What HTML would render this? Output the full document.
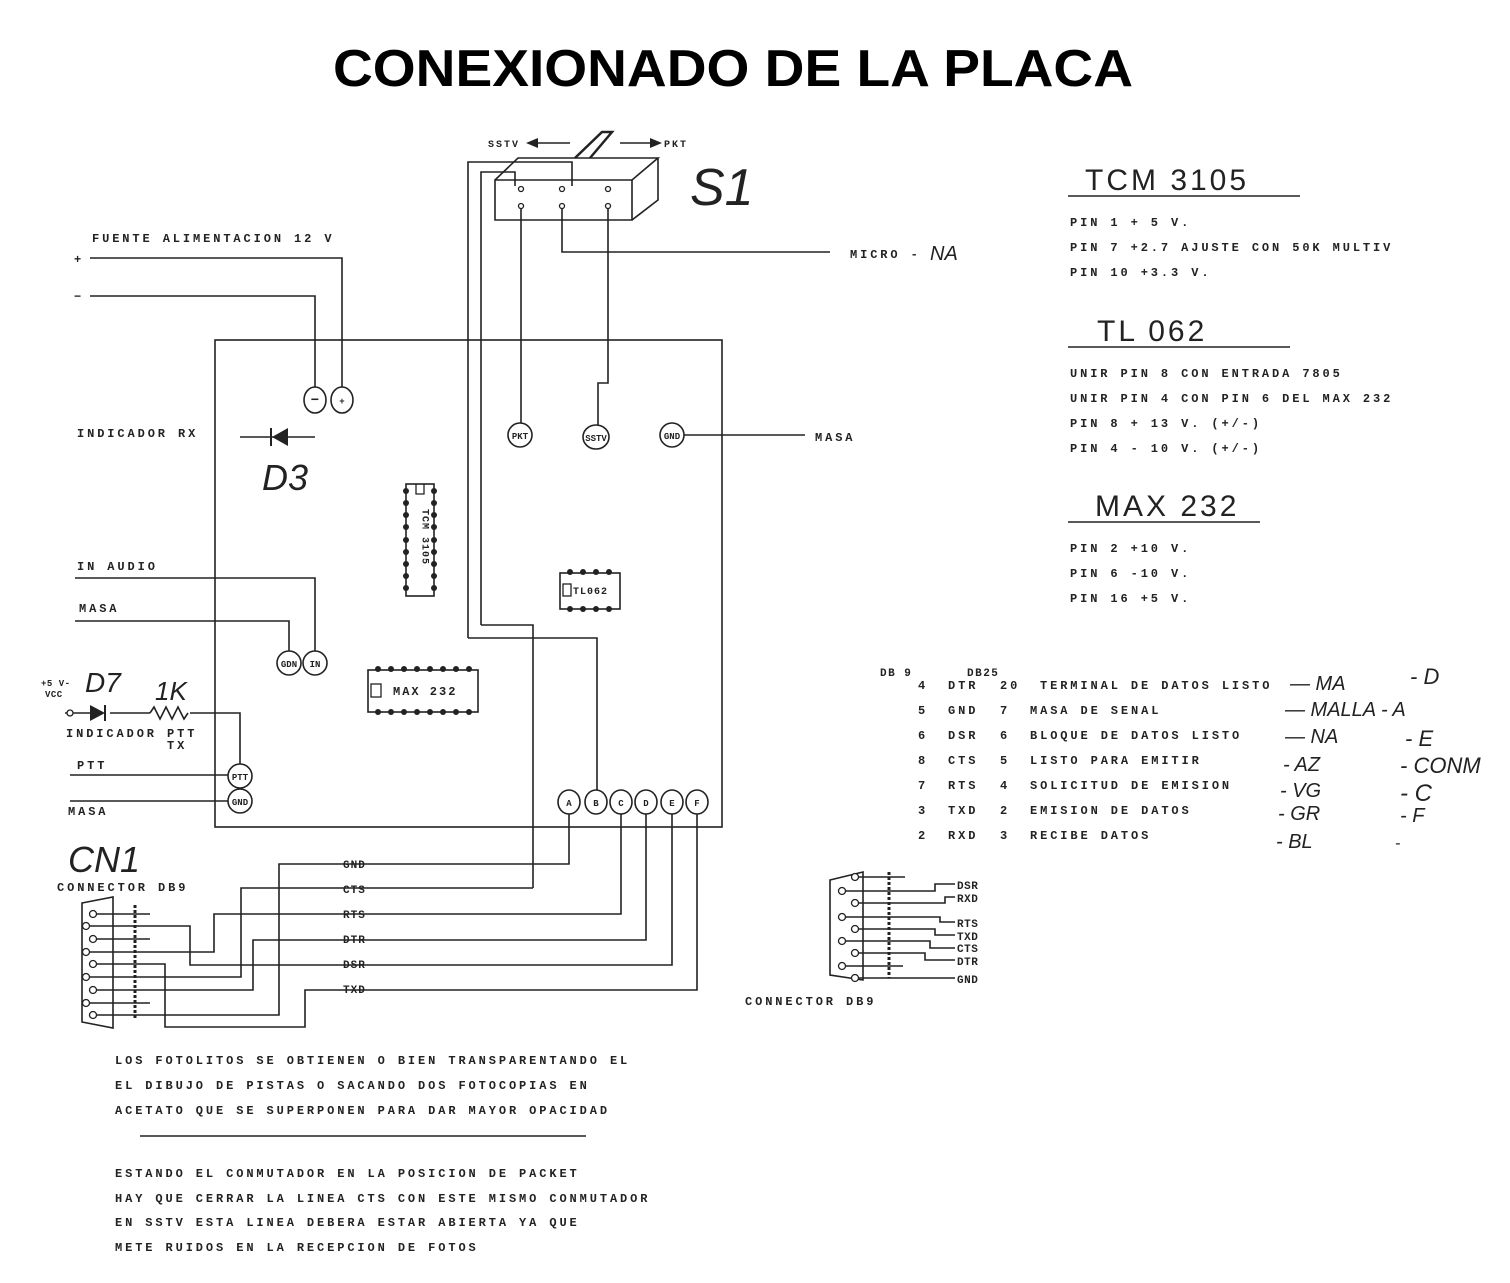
<!DOCTYPE html>
<html><head><meta charset="utf-8"><style>
html,body{margin:0;padding:0;background:#fff;}
svg{display:block;}
.t{font-family:"Liberation Mono",monospace;font-size:12px;font-weight:bold;letter-spacing:2.9px;fill:#222;}
.s{font-family:"Liberation Mono",monospace;font-size:10px;font-weight:bold;letter-spacing:1px;fill:#222;}
.h{font-family:"Liberation Sans",sans-serif;font-size:30px;fill:#222;letter-spacing:3px;}
.hw{font-family:"Liberation Sans",sans-serif;font-style:italic;fill:#222;}
</style></head><body>
<svg width="1510" height="1283" viewBox="0 0 1510 1283" xmlns="http://www.w3.org/2000/svg">
<text x="333" y="86" textLength="800" lengthAdjust="spacingAndGlyphs" font-family="Liberation Sans,sans-serif" font-weight="bold" font-size="52" fill="#000">CONEXIONADO DE LA PLACA</text>

<g stroke="#222" stroke-width="1.6" fill="none">
<rect x="215" y="340" width="507" height="487"/>
<path d="M495 180 L632 180 L632 220 L495 220 Z"/>
<path d="M495 180 L518 158 L658 158 L632 180"/>
<path d="M658 158 L658 200 L632 220"/>
<path d="M575 158 L602 132 L612 132 L590 158" stroke-width="2.5"/>
<path d="M468 638 L468 162 L572 162 L572 186"/>
<path d="M481 625 L481 172 L515 172 L515 186"/>
<path d="M468 638 L597 638 L597 790"/>
<path d="M481 625 L533 625 L533 888"/>
<path d="M521 206 L521 424"/>
<path d="M562 206 L562 252 L830 252"/>
<path d="M608 206 L608 383 L598 383 L598 426"/>
<path d="M90 258 L342 258 L342 388"/>
<path d="M90 296 L315 296 L315 388"/>
<path d="M684 435 L805 435"/>
<path d="M75 578 L315 578 L315 651"/>
<path d="M75 621 L289 621 L289 651"/>
<path d="M70 775 L228 775"/>
<path d="M70 801 L228 801"/>
<path d="M65 713 L90 713 M110 713 L150 713 M190 713 L240 713 L240 764"/>
<path d="M150 713 l4 -6 l6 12 l6 -12 l6 12 l6 -12 l6 12 l4 -6"/>
<path d="M240 437 L315 437"/>
<path d="M569 813 L569 864 L279 864 L279 1015 L140 1015"/>
<path d="M533 888 L241 888 L241 977 L110 977"/>
<path d="M621 813 L621 914 L214 914 L214 952 L110 952"/>
<path d="M646 813 L646 940 L253 940 L253 990 L140 990"/>
<path d="M672 813 L672 965 L190 965 L190 926 L110 926"/>
<path d="M697 813 L697 990 L305 990 L305 1027 L165 1027 L165 964 L140 964"/>
<path d="M82 903 L113 897 L113 1028 L82 1022 Z"/>
<path d="M135 905 L135 1020" stroke-dasharray="3 2" stroke-width="3"/>
<path d="M93 914 L150 914 M86 926 L110 926 M93 939 L150 939 M86 952 L110 952 M93 964 L140 964 M86 977 L110 977 M93 990 L140 990 M86 1003 L150 1003 M93 1015 L140 1015"/>
<path d="M830 880 L863 872 L863 980 L830 975 Z"/>
<path d="M889 872 L889 978" stroke-dasharray="3 2" stroke-width="3"/>
<path d="M855 877 L905 877 M842 891 L935 891 L935 884 L955 884 M855 903 L945 903 L945 897 L955 897 M842 917 L940 917 L940 922 L955 922 M855 929 L935 929 L935 935 L955 935 M842 941 L930 941 L930 948 L955 948 M855 953 L925 953 L925 960 L955 960 M842 966 L903 966 M855 978 L955 978"/>
<path d="M140 1136 L586 1136"/>
<path d="M1068 196 L1300 196 M1068 347 L1290 347 M1068 522 L1260 522"/>
<path d="M530 143 L570 143 M620 143 L656 143"/>
</g>
<g fill="#222">
<path d="M526 143 L538 138 L538 148Z"/>
<path d="M662 143 L650 138 L650 148Z"/>
<path d="M272 437 L288 428 L288 446Z"/>
<path d="M90 705 L90 721 L105 713Z"/>
</g>
<path d="M271 428 L271 446 M105 705 L105 721" stroke="#222" stroke-width="2"/>

<g fill="#fff" stroke="#222" stroke-width="1.3">
<circle cx="521" cy="189" r="2.5"/><circle cx="562" cy="189" r="2.5"/><circle cx="608" cy="189" r="2.5"/>
<circle cx="521" cy="206" r="2.5"/><circle cx="562" cy="206" r="2.5"/><circle cx="608" cy="206" r="2.5"/>
<circle cx="70" cy="713" r="3"/>
<circle cx="93" cy="914" r="3.5"/><circle cx="86" cy="926" r="3.5"/><circle cx="93" cy="939" r="3.5"/><circle cx="86" cy="952" r="3.5"/><circle cx="93" cy="964" r="3.5"/><circle cx="86" cy="977" r="3.5"/><circle cx="93" cy="990" r="3.5"/><circle cx="86" cy="1003" r="3.5"/><circle cx="93" cy="1015" r="3.5"/>
<circle cx="855" cy="877" r="3.5"/><circle cx="842" cy="891" r="3.5"/><circle cx="855" cy="903" r="3.5"/><circle cx="842" cy="917" r="3.5"/><circle cx="855" cy="929" r="3.5"/><circle cx="842" cy="941" r="3.5"/><circle cx="855" cy="953" r="3.5"/><circle cx="842" cy="966" r="3.5"/><circle cx="855" cy="978" r="3.5"/>
</g>

<g fill="#fff" stroke="#222" stroke-width="1.6">
<ellipse cx="315" cy="400" rx="11" ry="13"/><ellipse cx="342" cy="400" rx="11" ry="13"/>
<ellipse cx="520" cy="435" rx="12" ry="12"/><ellipse cx="596" cy="437" rx="13" ry="12"/><ellipse cx="672" cy="435" rx="12" ry="12"/>
<ellipse cx="289" cy="663" rx="12" ry="12"/><ellipse cx="315" cy="663" rx="12" ry="12"/>
<ellipse cx="240" cy="776" rx="12" ry="12"/><ellipse cx="240" cy="801" rx="12" ry="12"/>
<ellipse cx="569" cy="802" rx="11" ry="12"/><ellipse cx="596" cy="802" rx="11" ry="12"/><ellipse cx="621" cy="802" rx="11" ry="12"/><ellipse cx="646" cy="802" rx="11" ry="12"/><ellipse cx="672" cy="802" rx="11" ry="12"/><ellipse cx="697" cy="802" rx="11" ry="12"/>
<rect x="406" y="484" width="28" height="112"/>
<rect x="560" y="573" width="60" height="36"/>
<rect x="368" y="670" width="110" height="42"/>
</g>
<path d="M416 484 L416 494 L424 494 L424 484" fill="none" stroke="#222" stroke-width="1.3"/>
<rect x="563" y="584" width="8" height="12" fill="none" stroke="#222" stroke-width="1.3"/>
<rect x="371" y="684" width="10" height="13" fill="none" stroke="#222" stroke-width="1.3"/>
<g fill="#222">
<circle cx="406" cy="491" r="3"/><circle cx="406" cy="503" r="3"/><circle cx="406" cy="515" r="3"/><circle cx="406" cy="527" r="3"/><circle cx="406" cy="540" r="3"/><circle cx="406" cy="552" r="3"/><circle cx="406" cy="564" r="3"/><circle cx="406" cy="576" r="3"/><circle cx="406" cy="588" r="3"/>
<circle cx="434" cy="491" r="3"/><circle cx="434" cy="503" r="3"/><circle cx="434" cy="515" r="3"/><circle cx="434" cy="527" r="3"/><circle cx="434" cy="540" r="3"/><circle cx="434" cy="552" r="3"/><circle cx="434" cy="564" r="3"/><circle cx="434" cy="576" r="3"/><circle cx="434" cy="588" r="3"/>
<circle cx="570" cy="572" r="3"/><circle cx="583" cy="572" r="3"/><circle cx="596" cy="572" r="3"/><circle cx="609" cy="572" r="3"/>
<circle cx="570" cy="609" r="3"/><circle cx="583" cy="609" r="3"/><circle cx="596" cy="609" r="3"/><circle cx="609" cy="609" r="3"/>
<circle cx="378" cy="669" r="3"/><circle cx="391" cy="669" r="3"/><circle cx="404" cy="669" r="3"/><circle cx="417" cy="669" r="3"/><circle cx="430" cy="669" r="3"/><circle cx="443" cy="669" r="3"/><circle cx="456" cy="669" r="3"/><circle cx="469" cy="669" r="3"/>
<circle cx="378" cy="712" r="3"/><circle cx="391" cy="712" r="3"/><circle cx="404" cy="712" r="3"/><circle cx="417" cy="712" r="3"/><circle cx="430" cy="712" r="3"/><circle cx="443" cy="712" r="3"/><circle cx="456" cy="712" r="3"/><circle cx="469" cy="712" r="3"/>
</g>

<g class="s" text-anchor="middle" style="font-size:9px;letter-spacing:0">
<text x="315" y="404" font-size="14">−</text><text x="342" y="404">+</text>
<text x="520" y="439">PKT</text><text x="596" y="441">SSTV</text><text x="672" y="439">GND</text>
<text x="289" y="667">GDN</text><text x="315" y="667">IN</text>
<text x="240" y="780">PTT</text><text x="240" y="805">GND</text>
<text x="569" y="806">A</text><text x="596" y="806">B</text><text x="621" y="806">C</text><text x="646" y="806">D</text><text x="672" y="806">E</text><text x="697" y="806">F</text>
</g>
<g class="s">
<text x="424" y="509" style="writing-mode:tb;letter-spacing:1px">TCM 3105</text>
<text x="573" y="594">TL062</text>
<text x="393" y="695" style="font-size:12px;letter-spacing:2px">MAX 232</text>
<text x="488" y="147" style="letter-spacing:2px">SSTV</text>
<text x="664" y="147" style="letter-spacing:2px">PKT</text>
</g>

<g class="t">
<text x="92" y="242">FUENTE ALIMENTACION 12 V</text>
<text x="74" y="263">+</text><text x="74" y="300">−</text>
<text x="850" y="258">MICRO -</text>
<text x="77" y="437">INDICADOR RX</text>
<text x="815" y="441">MASA</text>
<text x="77" y="570">IN AUDIO</text>
<text x="79" y="612">MASA</text>
<text x="66" y="737">INDICADOR PTT</text>
<text x="167" y="749">TX</text>
<text x="77" y="769">PTT</text>
<text x="68" y="815">MASA</text>
<text x="57" y="891">CONNECTOR DB9</text>
<text x="745" y="1005">CONNECTOR DB9</text>
<text x="343" y="868" style="font-size:11px;letter-spacing:1px">GND</text>
<text x="343" y="893" style="font-size:11px;letter-spacing:1px">CTS</text>
<text x="343" y="918" style="font-size:11px;letter-spacing:1px">RTS</text>
<text x="343" y="943" style="font-size:11px;letter-spacing:1px">DTR</text>
<text x="343" y="968" style="font-size:11px;letter-spacing:1px">DSR</text>
<text x="343" y="993" style="font-size:11px;letter-spacing:1px">TXD</text>
</g>
<g class="s" style="font-size:11px;letter-spacing:0.5px">
<text x="957" y="889">DSR</text><text x="957" y="902">RXD</text><text x="957" y="927">RTS</text><text x="957" y="940">TXD</text><text x="957" y="952">CTS</text><text x="957" y="965">DTR</text><text x="957" y="983">GND</text>
<text x="41" y="686" style="font-size:9px">+5 V-</text><text x="45" y="697" style="font-size:9px">VCC</text>
</g>

<text class="h" x="1085" y="190">TCM 3105</text>
<text class="h" x="1097" y="341">TL 062</text>
<text class="h" x="1095" y="516">MAX 232</text>
<g class="t">
<text x="1070" y="226">PIN 1 + 5 V.</text>
<text x="1070" y="251">PIN 7 +2.7 AJUSTE CON 50K MULTIV</text>
<text x="1070" y="276">PIN 10 +3.3 V.</text>
<text x="1070" y="377">UNIR PIN 8 CON ENTRADA 7805</text>
<text x="1070" y="402">UNIR PIN 4 CON PIN 6 DEL MAX 232</text>
<text x="1070" y="427">PIN 8 + 13 V. (+/-)</text>
<text x="1070" y="452">PIN 4 - 10 V. (+/-)</text>
<text x="1070" y="552">PIN 2 +10 V.</text>
<text x="1070" y="577">PIN 6 -10 V.</text>
<text x="1070" y="602">PIN 16 +5 V.</text>

<text x="880" y="676" style="font-size:11px;letter-spacing:1.5px">DB 9</text>
<text x="967" y="676" style="font-size:11px;letter-spacing:1.5px">DB25</text>
<text x="918" y="689">4</text><text x="948" y="689">DTR</text><text x="1000" y="689">20</text><text x="1040" y="689">TERMINAL DE DATOS LISTO</text>
<text x="918" y="714">5</text><text x="948" y="714">GND</text><text x="1000" y="714">7</text><text x="1030" y="714">MASA DE SENAL</text>
<text x="918" y="739">6</text><text x="948" y="739">DSR</text><text x="1000" y="739">6</text><text x="1030" y="739">BLOQUE DE DATOS LISTO</text>
<text x="918" y="764">8</text><text x="948" y="764">CTS</text><text x="1000" y="764">5</text><text x="1030" y="764">LISTO PARA EMITIR</text>
<text x="918" y="789">7</text><text x="948" y="789">RTS</text><text x="1000" y="789">4</text><text x="1030" y="789">SOLICITUD DE EMISION</text>
<text x="918" y="814">3</text><text x="948" y="814">TXD</text><text x="1000" y="814">2</text><text x="1030" y="814">EMISION DE DATOS</text>
<text x="918" y="839">2</text><text x="948" y="839">RXD</text><text x="1000" y="839">3</text><text x="1030" y="839">RECIBE DATOS</text>

<text x="115" y="1064">LOS FOTOLITOS SE OBTIENEN O BIEN TRANSPARENTANDO EL</text>
<text x="115" y="1089">EL DIBUJO DE PISTAS O SACANDO DOS FOTOCOPIAS EN</text>
<text x="115" y="1114">ACETATO QUE SE SUPERPONEN PARA DAR MAYOR OPACIDAD</text>
<text x="115" y="1177">ESTANDO EL CONMUTADOR EN LA POSICION DE PACKET</text>
<text x="115" y="1202">HAY QUE CERRAR LA LINEA CTS CON ESTE MISMO CONMUTADOR</text>
<text x="115" y="1226">EN SSTV ESTA LINEA DEBERA ESTAR ABIERTA YA QUE</text>
<text x="115" y="1251">METE RUIDOS EN LA RECEPCION DE FOTOS</text>
</g>

<g class="hw">
<text x="690" y="205" font-size="52">S1</text>
<text x="930" y="260" font-size="20">NA</text>
<text x="262" y="490" font-size="36">D3</text>
<text x="85" y="692" font-size="28">D7</text>
<text x="155" y="700" font-size="26">1K</text>
<text x="68" y="872" font-size="36">CN1</text>
<text x="1290" y="690" font-size="20">— MA</text><text x="1410" y="684" font-size="22">- D</text>
<text x="1285" y="716" font-size="20">— MALLA - A</text>
<text x="1285" y="743" font-size="20">— NA</text><text x="1405" y="746" font-size="22">- E</text>
<text x="1283" y="771" font-size="20">- AZ</text><text x="1400" y="773" font-size="22">- CONM</text>
<text x="1280" y="797" font-size="20">- VG</text><text x="1400" y="801" font-size="24">- C</text>
<text x="1278" y="820" font-size="20">- GR</text><text x="1400" y="822" font-size="20">- F</text>
<text x="1276" y="848" font-size="20">- BL</text><text x="1395" y="848" font-size="16">-</text>
</g>
</svg>
</body></html>
